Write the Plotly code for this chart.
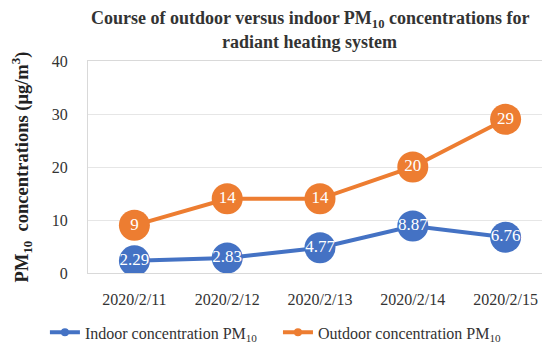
import plotly.graph_objects as go

dates = ["2020/2/11", "2020/2/12", "2020/2/13", "2020/2/14", "2020/2/15"]
indoor = [2.29, 2.83, 4.77, 8.87, 6.76]
outdoor = [9, 14, 14, 20, 29]
indoor_labels = ["2.29", "2.83", "4.77", "8.87", "6.76"]
outdoor_labels = ["9", "14", "14", "20", "29"]
series_names = ["Indoor concentration PM<sub>10</sub>", "Outdoor concentration PM<sub>10</sub>"]

BLUE = "#4472C4"
ORANGE = "#ED7D31"
FONT = "Liberation Serif"

fig = go.Figure()
for vals, labels, color in [(indoor, indoor_labels, BLUE), (outdoor, outdoor_labels, ORANGE)]:
    fig.add_trace(go.Scatter(
        x=dates, y=vals, mode="lines+markers+text", showlegend=False,
        line=dict(color=color, width=4),
        marker=dict(color=color, size=31),
        text=labels, textposition="middle center",
        textfont=dict(color="white", size=17, family=FONT),
    ))
# legend entries with small markers
for i, (name, color) in enumerate(zip(series_names, [BLUE, ORANGE])):
    fig.add_trace(go.Scatter(
        x=[None], y=[None], mode="lines+markers",
        name=name + ("\u00a0\u00a0\u00a0\u00a0" if i == 0 else ""),
        line=dict(color=color, width=4), marker=dict(color=color, size=8),
    ))

fig.add_annotation(
    text="<b>Course of outdoor versus indoor PM<sub>10</sub> concentrations for</b>",
    xref="paper", yref="paper", x=0.478, y=1.0, yshift=55,
    xanchor="center", yanchor="top", showarrow=False,
    font=dict(size=18, family=FONT, color="#333333"),
)
fig.add_annotation(
    text="<b>radiant heating system</b>",
    xref="paper", yref="paper", x=0.478, y=1.0, yshift=31,
    xanchor="center", yanchor="top", showarrow=False,
    font=dict(size=18, family=FONT, color="#333333"),
)

fig.update_layout(
    width=550, height=348,
    margin=dict(l=80, r=6, t=53, b=70),
    paper_bgcolor="white", plot_bgcolor="white",
    font=dict(family=FONT, color="#333333", size=16),
    showlegend=True,
    legend=dict(
        orientation="h", x=0.405, xanchor="center", y=-0.2, yanchor="top",
        font=dict(size=16, family=FONT, color="#333333"),
        itemwidth=30, tracegroupgap=0,
    ),
    xaxis=dict(
        type="category", range=[-0.5, 4.5],
        showgrid=False, showline=True, linecolor="#d9d9d9", linewidth=1,
        mirror=True, ticks="", tickfont=dict(size=16, family=FONT, color="#333333"),
        ticklabelstandoff=12,
    ),
    yaxis=dict(
        range=[0, 40], dtick=10,
        showgrid=True, gridcolor="#e6e6e6", gridwidth=1,
        showline=True, linecolor="#d9d9d9", mirror=True,
        zeroline=False,
        tickfont=dict(size=16, family=FONT, color="#333333"),
        ticklabelstandoff=16,
        title=dict(
            text="<b>PM<sub>10</sub>  concentrations (μg/m<sup>3</sup>)</b>",
            font=dict(size=18.5, family=FONT, color="#222222"),
            standoff=18,
        ),
    ),
)

fig.write_html("out.html")
